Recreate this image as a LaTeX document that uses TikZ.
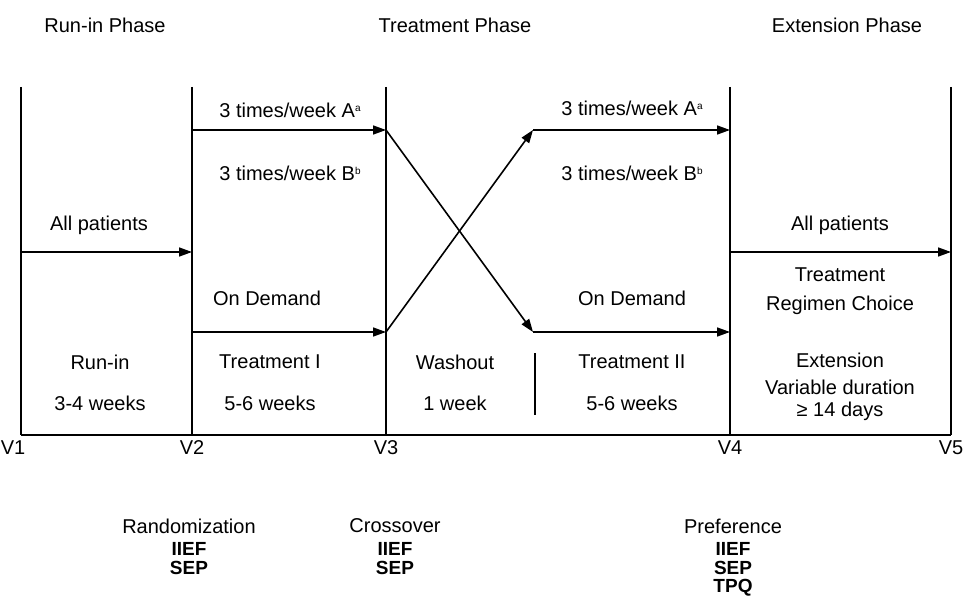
\documentclass[tikz,border=0pt]{standalone}
\usepackage{fontspec}
\setmainfont{Liberation Sans}
\usetikzlibrary{arrows.meta}
\newcommand{\supmark}[1]{\raisebox{6pt}{\fontsize{10}{10}\selectfont #1}}
\begin{document}
\begin{tikzpicture}[line width=1.6pt,>={Stealth[length=13pt,width=9pt,inset=0pt]},x=1pt,y=-1pt,
    font=\fontsize{20}{24}\selectfont,
    lbl/.style={inner sep=0pt},
    key/.style={inner sep=0pt,font=\fontsize{19}{22}\selectfont\bfseries}]
        \useasboundingbox (0,0) rectangle (965,599);
        % visit lines
        \foreach \v/\x in {1/21,2/192,3/386,4/730,5/951} {
            \coordinate (top\v) at (\x,87);
            \coordinate (bot\v) at (\x,435);
            \draw (top\v) -- (bot\v);
        }
        \draw (bot1) -- (bot5);
        % arrow end points
        \coordinate (run0) at (21,252);   \coordinate (run1) at (192,252);
        \coordinate (a0) at (192,130);    \coordinate (a1) at (386,130);
        \coordinate (d0) at (192,332);    \coordinate (d1) at (386,332);
        \coordinate (a2) at (533,130);    \coordinate (a3) at (730,130);
        \coordinate (d2) at (533,332);    \coordinate (d3) at (730,332);
        \coordinate (ext0) at (730,252);  \coordinate (ext1) at (951,252);
        \coordinate (sep0) at (535,353);  \coordinate (sep1) at (535,415);
        \draw[->] (run0) -- (run1);
        \draw[->] (a0) -- (a1);
        \draw[->] (d0) -- (d1);
        \draw[->] (a1) -- (d2);
        \draw[->] (d1) -- (a2);
        \draw[->] (a2) -- (a3);
        \draw[->] (d2) -- (d3);
        \draw[->] (ext0) -- (ext1);
        \draw (sep0) -- (sep1);
        % phase titles
        \node[lbl] (ph1) at (105,25) {Run-in Phase};
        \node[lbl] (ph2) at (455,25) {Treatment Phase};
        \node[lbl] (ph3) at (847,25) {Extension Phase};
        % arm labels
        \node[lbl] (armA1) at (290,110) {3 times/week A\supmark{a}};
        \node[lbl] (armB1) at (290,173) {3 times/week B\supmark{b}};
        \node[lbl] (armA2) at (632,108) {3 times/week A\supmark{a}};
        \node[lbl] (armB2) at (632,173) {3 times/week B\supmark{b}};
        \node[lbl] (all1) at (99,225) {All patients};
        \node[lbl] (all2) at (840,225) {All patients};
        \node[lbl] (dem1) at (267,298) {On Demand};
        \node[lbl] (dem2) at (632,298) {On Demand};
        \node[lbl] (choice1) at (840,275) {Treatment};
        \node[lbl] (choice2) at (840,305) {Regimen Choice};
        % period labels
        \node[lbl] (per1) at (100,362) {Run-in};
        \node[lbl] (dur1) at (100,403) {3-4 weeks};
        \node[lbl] (per2) at (270,362) {Treatment I};
        \node[lbl] (dur2) at (270,403) {5-6 weeks};
        \node[lbl] (per3) at (455,362) {Washout};
        \node[lbl] (dur3) at (455,403) {1 week};
        \node[lbl] (per4) at (632,362) {Treatment II};
        \node[lbl] (dur4) at (632,403) {5-6 weeks};
        \node[lbl] (per5) at (840,360) {Extension};
        \node[lbl] (dur5) at (840,387) {Variable duration};
        \node[lbl] (dur6) at (840,411) {≥ 14 days};
        % visits
        \node[lbl] (V1) at (13,448) {V1};
        \node[lbl] (V2) at (192,448) {V2};
        \node[lbl] (V3) at (386,448) {V3};
        \node[lbl] (V4) at (730,448) {V4};
        \node[lbl] (V5) at (951,448) {V5};
        % assessments
        \node[lbl] (rand) at (189,526) {Randomization};
        \node[key] (rand1) at (189,549) {IIEF};
        \node[key] (rand2) at (189,568) {SEP};
        \node[lbl] (cross) at (395,526) {Crossover};
        \node[key] (cross1) at (395,549) {IIEF};
        \node[key] (cross2) at (395,568) {SEP};
        \node[lbl] (pref) at (733,526) {Preference};
        \node[key] (pref1) at (733,549) {IIEF};
        \node[key] (pref2) at (733,568) {SEP};
        \node[key] (pref3) at (733,588) {TPQ};
\end{tikzpicture}
\end{document}
